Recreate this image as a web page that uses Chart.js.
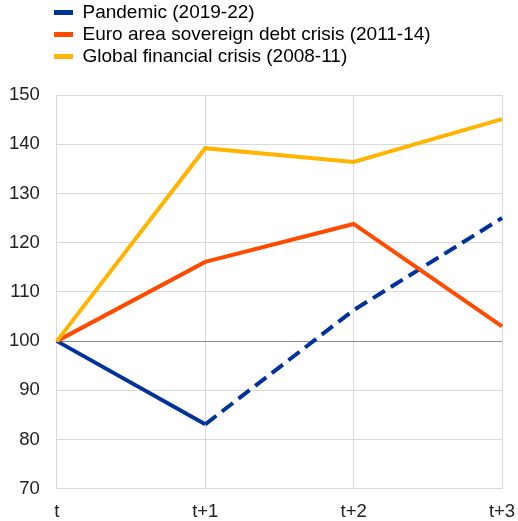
<!DOCTYPE html>
<html>
<head>
<meta charset="utf-8">
<script src="https://cdn.jsdelivr.net/npm/chart.js@4"></script>
<style>
html,body{margin:0;padding:0;background:#fff;}
#wrap{width:518px;height:521px;position:relative;}
canvas{display:block;}
</style>
</head>
<body>
<div id="wrap"><canvas id="c" width="518" height="521"></canvas></div>
<script>
const categories = ['t', 't+1', 't+2', 't+3'];
const seriesNames = ['Pandemic (2019-22)', 'Euro area sovereign debt crisis (2011-14)', 'Global financial crisis (2008-11)'];
const pandemic = [100, 83.1, 106.3, 125.0];
const euroCrisis = [100, 116.1, 123.8, 103.0];
const gfc = [100, 139.2, 136.4, 145.1];
const yTicks = [70, 80, 90, 100, 110, 120, 130, 140, 150];

const colors = ['#003299', '#ff4b00', '#ffb400'];
const FONT = 'Liberation Sans, Arial, sans-serif';

const layoutPlugin = {
  id: 'layoutTweak',
  beforeLayout(chart) {
    const lg = chart.legend;
    if (lg && !lg._patched) {
      const orig = lg.fit;
      lg.fit = function() { orig.call(this); this.height += 19; };
      lg._patched = true;
    }
  },
  beforeDraw(chart) {
    if (chart.legend) chart.legend.left = 51;
  }
};

new Chart(document.getElementById('c'), {
  type: 'line',
  data: {
    labels: categories,
    datasets: [
      {
        label: seriesNames[0], data: pandemic, borderColor: colors[0], backgroundColor: colors[0],
        borderWidth: 4, pointRadius: 0, tension: 0, order: 2,
        segment: { borderDash: ctx => ctx.p0DataIndex >= 1 ? [14, 7] : undefined }
      },
      { label: seriesNames[1], data: euroCrisis, borderColor: colors[1], backgroundColor: colors[1], borderWidth: 4, pointRadius: 0, tension: 0, order: 1 },
      { label: seriesNames[2], data: gfc, borderColor: colors[2], backgroundColor: colors[2], borderWidth: 4, pointRadius: 0, tension: 0, order: 0 }
    ]
  },
  options: {
    responsive: false,
    animation: false,
    layout: { padding: { left: -8, right: 0, top: 0, bottom: -14 } },
    plugins: {
      legend: {
        position: 'top', align: 'start',
        labels: {
          boxWidth: 19, boxHeight: 5, padding: 3, color: '#222',
          font: { family: FONT, size: 19 },
          generateLabels(chart) {
            return chart.data.datasets.map((ds, i) => ({
              text: ds.label, fillStyle: ds.borderColor, strokeStyle: ds.borderColor,
              lineWidth: 0, hidden: false, datasetIndex: i
            }));
          }
        }
      },
      tooltip: { enabled: false }
    },
    scales: {
      x: {
        type: 'category', offset: false,
        afterFit(scale) { scale.paddingRight = 16; },
        grid: { color: '#d9d9d9', lineWidth: 1, drawTicks: false },
        border: { color: '#d9d9d9' },
        ticks: { color: '#222', font: { family: FONT, size: 18.5 }, padding: 12, maxRotation: 0 }
      },
      y: {
        min: 70, max: 150,
        afterBuildTicks(scale) { scale.ticks = yTicks.map(v => ({ value: v })); },
        grid: {
          color: ctx => (ctx.tick && ctx.tick.value === 100) ? '#8c8c8c' : '#d9d9d9',
          lineWidth: 1, drawTicks: false
        },
        border: { color: '#d9d9d9' },
        ticks: { color: '#222', font: { family: FONT, size: 18.5 }, padding: 17 }
      }
    }
  },
  plugins: [layoutPlugin]
});
</script>
</body>
</html>
